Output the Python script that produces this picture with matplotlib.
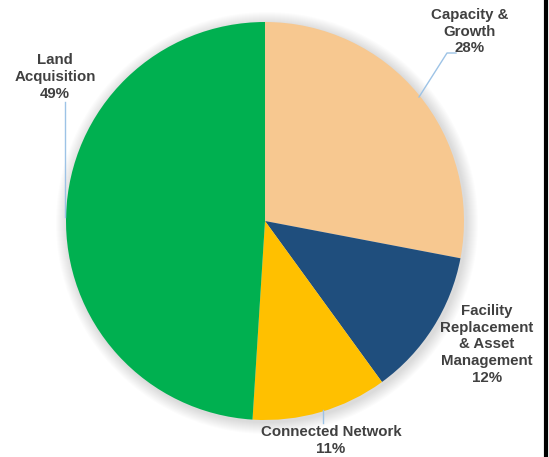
import matplotlib.pyplot as plt
from matplotlib.patches import Circle

categories = ['Capacity &\nGrowth', 'Facility\nReplacement\n& Asset\nManagement',
              'Connected Network', 'Land\nAcquisition']
shares = [28, 12, 11, 49]
colors = ['#F7C890', '#1F4E7D', '#FFC000', '#00B050']

plt.rcParams['font.family'] = ['Liberation Sans', 'DejaVu Sans']

fig = plt.figure(figsize=(5.49, 4.57), dpi=100)
ax = fig.add_axes([0, 0, 1, 1])

cx, cy, r = 265, 457 - 221, 199

# soft shadow under the pie
for i in range(12):
    ax.add_patch(Circle((cx + 2, cy - 2), r + 12 - i, color='black',
                        alpha=0.012, lw=0, zorder=0))

wedges, _ = ax.pie(shares, colors=colors, startangle=90, counterclock=False,
                   center=(cx, cy), radius=r, wedgeprops=dict(linewidth=0))

ax.set_xlim(0, 549)
ax.set_ylim(0, 457)
ax.set_aspect('equal')
ax.axis('off')

lab = [f'{c}\n{v}%' for c, v in zip(categories, shares)]
txt = dict(fontsize=10.8, fontweight='bold', color='#404040',
           ha='center', va='top', linespacing=1.25)
ax.text(470, 457 - 8, lab[0], **txt)
ax.text(487, 457 - 304, lab[1], **txt)
ax.text(331, 457 - 425, lab[2], **txt)
ax.text(55, 457 - 53, lab[3], **txt)

# leader lines
lc = dict(color='#9DC3E6', lw=1)
ax.plot([419, 447, 456], [457 - 97, 457 - 53, 457 - 53], **lc)
ax.plot([65, 65], [457 - 217, 457 - 102], **lc)
ax.plot([323, 323], [457 - 410, 457 - 423], **lc)

# frame edge on the right
ax.plot([545.5, 545.5], [0, 457], color='black', lw=3)

fig.savefig('out.png', dpi=100)
